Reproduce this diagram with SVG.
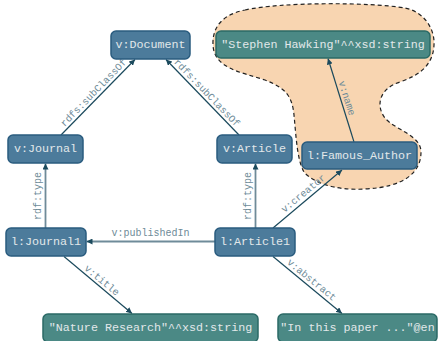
<svg xmlns="http://www.w3.org/2000/svg" width="440" height="341" viewBox="0 0 440 341">
<style>
.cls rect{fill:#4c7b9b;stroke:#2a5c7f;stroke-width:1.5}
.lit rect{fill:#4b8985;stroke:#2b6a66;stroke-width:1.5}
.node text{font-family:"Liberation Mono",monospace;font-size:11.7px;fill:#e2e8ea;text-anchor:middle;dominant-baseline:central}
.e{stroke:#1b4a5d;stroke-width:1.2;fill:none;marker-end:url(#ah)}
.g{stroke:#6f8b99;stroke-width:1.8;fill:none;marker-end:url(#ah)}
.lbl{font-family:"Liberation Mono",monospace;font-size:10px;fill:#6e8b98;text-anchor:middle}
</style>
<defs>
<marker id="ah" viewBox="0 0 10 10" refX="10" refY="5" markerWidth="6" markerHeight="6" markerUnits="userSpaceOnUse" orient="auto">
<path d="M0,0 L10,5 L0,10 Z" fill="#1b4a5d"/>
</marker>
</defs>
<path id="blob" d="M245,10 C280,2 370,2 405,8 C425,12 435,30 434,45 C433,65 420,75 400,82 C380,88 375,105 385,118 C395,130 421,135 421,152 C421,172 405,187 365,189 C335,191 312,182 304,172 C297,160 296,135 294,115 C292,95 285,88 265,80 C240,72 214,68 213,45 C212,25 225,14 245,10 Z" fill="#f8d5b1" stroke="#222" stroke-width="1.2" stroke-dasharray="4,3"/>
<g id="edges">
<line class="e" x1="61" y1="135" x2="135" y2="59.5"/>
<line class="e" x1="239" y1="135" x2="166" y2="59.5"/>
<line class="g" x1="45.5" y1="228" x2="45.5" y2="163.5"/>
<line class="g" x1="255.5" y1="228" x2="255.5" y2="163.5"/>
<line class="g" x1="215" y1="241.5" x2="86.5" y2="241.5"/>
<line class="e" x1="64" y1="256.5" x2="132" y2="313.5"/>
<line class="e" x1="273" y1="256.5" x2="342" y2="313.5"/>
<line class="e" x1="273" y1="228" x2="342" y2="170"/>
<line class="e" x1="354" y1="142" x2="328" y2="58.5"/>
<text class="lbl" transform="translate(98,97) rotate(-45.8)" y="-3">rdfs:subClassOf</text>
<text class="lbl" transform="translate(202.5,97) rotate(46.1)" y="-3">rdfs:subClassOf</text>
<text class="lbl" transform="translate(45.5,196) rotate(-90)" y="-5">rdf:type</text>
<text class="lbl" transform="translate(255.5,196) rotate(-90)" y="-5">rdf:type</text>
<text class="lbl" x="150.5" y="236">v:publishedIn</text>
<text class="lbl" transform="translate(98,285) rotate(39.5)" y="-3">v:title</text>
<text class="lbl" transform="translate(307.5,285) rotate(39.1)" y="-3.5">v:abstract</text>
<text class="lbl" transform="translate(307.5,198.5) rotate(-39.6)" y="-3.5">v:creator</text>
<text class="lbl" transform="translate(341,100) rotate(72.4)" y="-3">v:name</text>
</g>
<g id="n-document" class="node cls"><rect x="111" y="31" width="79" height="28" rx="5"/><text x="150.5" y="45">v:Document</text></g>
<g id="n-journal" class="node cls"><rect x="8" y="135" width="75" height="28" rx="5"/><text x="45.5" y="149">v:Journal</text></g>
<g id="n-article" class="node cls"><rect x="217" y="135" width="75" height="28" rx="5"/><text x="254.5" y="149">v:Article</text></g>
<g id="n-author" class="node cls"><rect x="302" y="142" width="115" height="27" rx="5"/><text x="359.5" y="155.5">l:Famous_Author</text></g>
<g id="n-hawking" class="node lit"><rect x="216" y="31" width="214" height="27" rx="5"/><text x="323" y="44.5">"Stephen Hawking"^^xsd:string</text></g>
<g id="n-journal1" class="node cls"><rect x="6" y="228" width="80" height="28" rx="5"/><text x="46" y="242">l:Journal1</text></g>
<g id="n-article1" class="node cls"><rect x="215" y="228" width="80" height="28" rx="5"/><text x="255" y="242">l:Article1</text></g>
<g id="n-nature" class="node lit"><rect x="43" y="314" width="215" height="28" rx="5"/><text x="150.5" y="328">"Nature Research"^^xsd:string</text></g>
<g id="n-abstract" class="node lit"><rect x="278" y="314" width="159" height="28" rx="5"/><text x="357.5" y="328">"In this paper ..."@en</text></g>
</svg>
